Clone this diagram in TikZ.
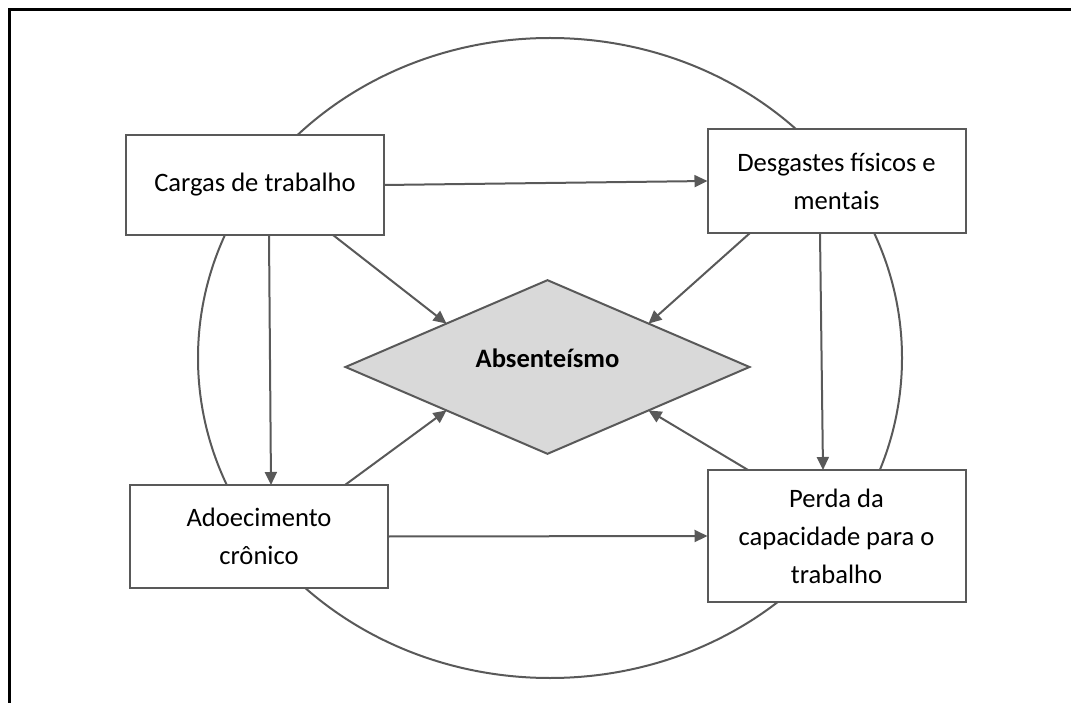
\documentclass[tikz,border=0pt]{standalone}
\usepackage{fontspec}
\setmainfont{Carlito}
\usetikzlibrary{shapes.geometric,arrows.meta}
\definecolor{linegray}{HTML}{595959}
\definecolor{fillgray}{HTML}{D9D9D9}
\tikzset{
  box/.style={draw=linegray,line width=2pt,fill=white,minimum width=258pt,align=center,inner sep=0pt,outer sep=0pt},
  arr/.style={draw=linegray,line width=2pt,-{Triangle[length=13pt,width=12pt]}},
}
\begin{document}
\begin{tikzpicture}[x=1pt,y=-1pt,font=\fontsize{26.6}{38}\selectfont]
                \useasboundingbox (0,0) rectangle (1071,703);
                \draw[line width=2.5pt] (9.5,703) |- (1071,9.5);
                \draw[linegray,line width=2pt] (550,358) ellipse [x radius=352pt,y radius=320pt];
                \node[diamond,draw=linegray,line width=2pt,fill=fillgray,minimum width=404pt,minimum height=160pt,inner sep=0pt,outer sep=0pt,text height=15pt,text depth=15pt,font=\fontsize{26.6}{38}\selectfont\bfseries] (abs) at (547.5,367) {Absenteísmo};
                \node[box,minimum height=100pt] (cargas) at (255,185) {Cargas de trabalho};
                \node[box,minimum height=104pt] (desg) at (836.5,181) {Desgastes físicos e\\mentais};
                \node[box,minimum height=103pt] (adoec) at (259,536.5) {Adoecimento\\crônico};
                \node[box,minimum height=132pt] (perda) at (836.5,536) {Perda da\\capacidade para o\\trabalho};
                \draw[arr] (cargas.east) -- (desg.west);
                \draw[arr] ([xshift=14pt]cargas.south) -- ([xshift=12pt]adoec.north);
                \draw[arr] ([xshift=78pt]cargas.south) -- (abs.north west);
                \draw[arr] ([xshift=-86.5pt]desg.south) -- (abs.north east);
                \draw[arr] ([xshift=-16.5pt]desg.south) -- ([xshift=-13.5pt]perda.north);
                \draw[arr] ([xshift=86pt]adoec.north) -- (abs.south west);
                \draw[arr] ([xshift=-88.5pt]perda.north) -- (abs.south east);
                \draw[arr] (adoec.east) -- (perda.west);
            \end{tikzpicture}
\end{document}
